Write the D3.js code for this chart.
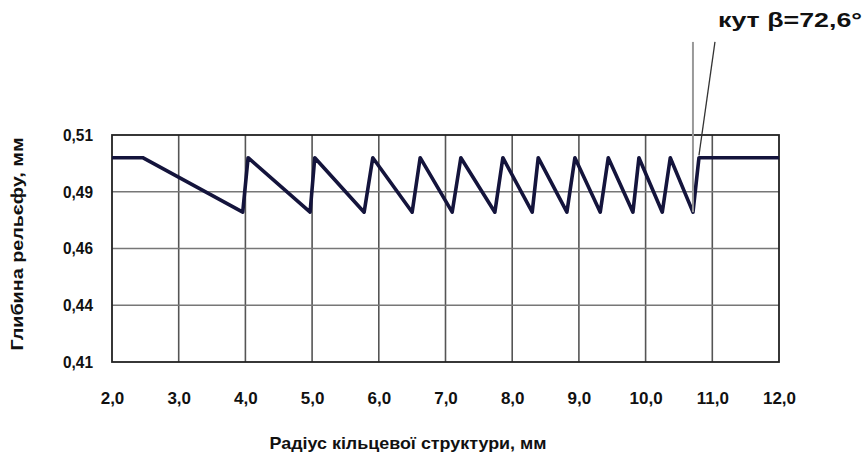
<!DOCTYPE html>
<html>
<head>
<meta charset="utf-8">
<script src="https://cdn.jsdelivr.net/npm/d3@7"></script>
<style>
  body { margin: 0; background: #fff; }
  svg text { font-family: "Liberation Sans Narrow", "Arial Narrow", "Liberation Sans", Arial, sans-serif; font-weight: bold; fill: #111; }
</style>
</head>
<body>
<div id="chart"></div>
<script>
// Chart data
const radius = [2.0, 2.46, 3.96, 4.04, 4.97, 5.04, 5.78, 5.91, 6.50, 6.62, 7.10, 7.23,
  7.74, 7.86, 8.30, 8.39, 8.82, 8.94, 9.32, 9.44, 9.81, 9.90, 10.25, 10.37, 10.71, 10.80, 12.0];
const depth = [0.500, 0.500, 0.476, 0.500, 0.476, 0.500, 0.476, 0.500, 0.476, 0.500, 0.476, 0.500,
  0.476, 0.500, 0.476, 0.500, 0.476, 0.500, 0.476, 0.500, 0.476, 0.500, 0.476, 0.500, 0.476, 0.500, 0.500];

const xTicks = [2, 3, 4, 5, 6, 7, 8, 9, 10, 11, 12];
const xTickLabels = ["2,0", "3,0", "4,0", "5,0", "6,0", "7,0", "8,0", "9,0", "10,0", "11,0", "12,0"];
const yTicks = [0.41, 0.435, 0.46, 0.485, 0.51];
const yTickLabels = ["0,41", "0,44", "0,46", "0,49", "0,51"];

// angle marker: vertical line at the last trough, slanted line from the last peak
const markerX = [10.71, 10.71];
const markerY = [0.476, 0.551];
const slantX = [10.80, 11.04];
const slantY = [0.501, 0.551];

const W = 866, H = 456;
const margin = { top: 135, right: 87, bottom: 94, left: 112 };
const width = W - margin.left - margin.right;
const height = H - margin.top - margin.bottom;

const svg = d3.select("#chart")
  .append("svg")
  .attr("width", W)
  .attr("height", H);

const g = svg.append("g")
  .attr("transform", `translate(${margin.left}, ${margin.top})`);

const x = d3.scaleLinear().domain([2, 12]).range([0, width]);
const y = d3.scaleLinear().domain([0.41, 0.51]).range([height, 0]);

// Grid lines
g.append("g")
  .selectAll("line")
  .data(xTicks.slice(1, -1))
  .enter().append("line")
  .attr("x1", d => x(d)).attr("x2", d => x(d))
  .attr("y1", 0).attr("y2", height)
  .attr("stroke", "#555")
  .attr("stroke-width", 1.6);

g.append("g")
  .selectAll("line")
  .data(yTicks.slice(1, -1))
  .enter().append("line")
  .attr("x1", 0).attr("x2", width)
  .attr("y1", d => y(d)).attr("y2", d => y(d))
  .attr("stroke", "#777")
  .attr("stroke-width", 1.6);

// Plot frame
g.append("rect")
  .attr("width", width)
  .attr("height", height)
  .attr("fill", "none")
  .attr("stroke", "#222")
  .attr("stroke-width", 1.8);

// Axes (labels only)
const xAxis = d3.axisBottom(x)
  .tickValues(xTicks)
  .tickSize(0)
  .tickPadding(30)
  .tickFormat((d, i) => xTickLabels[i]);
g.append("g")
  .attr("transform", `translate(0, ${height})`)
  .call(xAxis)
  .call(a => a.select(".domain").remove())
  .selectAll("text")
  .style("font-size", "17px")
  .style("font-family", null)
  .attr("fill", "#111");

const yAxis = d3.axisLeft(y)
  .tickValues(yTicks)
  .tickSize(0)
  .tickPadding(19)
  .tickFormat((d, i) => yTickLabels[i]);
g.append("g")
  .call(yAxis)
  .call(a => a.select(".domain").remove())
  .selectAll("text")
  .style("font-size", "17px")
  .style("font-family", null)
  .attr("textLength", 30)
  .attr("lengthAdjust", "spacingAndGlyphs")
  .attr("fill", "#111");

// Axis titles
svg.append("text")
  .attr("x", 408)
  .attr("y", 449)
  .attr("text-anchor", "middle")
  .style("font-size", "17px")
  .attr("textLength", 277)
  .attr("lengthAdjust", "spacingAndGlyphs")
  .text("Радіус кільцевої структури, мм");

svg.append("text")
  .attr("transform", "translate(23, 244) rotate(-90)")
  .attr("text-anchor", "middle")
  .style("font-size", "16px")
  .attr("textLength", 213)
  .attr("lengthAdjust", "spacingAndGlyphs")
  .text("Глибина рельєфу, мм");

// Profile line
const pts = radius.map((r, i) => [r, depth[i]]);
g.append("path")
  .datum(pts)
  .attr("fill", "none")
  .attr("stroke", "#14143c")
  .attr("stroke-width", 3.6)
  .attr("stroke-linejoin", "round")
  .attr("d", d3.line().x(d => x(d[0])).y(d => y(d[1])));

// Angle marker
g.append("line")
  .attr("x1", x(markerX[0])).attr("y1", y(markerY[0]))
  .attr("x2", x(markerX[1])).attr("y2", y(markerY[1]))
  .attr("stroke", "#999")
  .attr("stroke-width", 2);

g.append("line")
  .attr("x1", x(slantX[0])).attr("y1", y(slantY[0]))
  .attr("x2", x(slantX[1])).attr("y2", y(slantY[1]))
  .attr("stroke", "#333")
  .attr("stroke-width", 1.3);

svg.append("text")
  .attr("x", 718)
  .attr("y", 27)
  .style("font-size", "21px")
  .attr("textLength", 144)
  .attr("lengthAdjust", "spacingAndGlyphs")
  .text("кут  β=72,6°");
</script>
</body>
</html>
